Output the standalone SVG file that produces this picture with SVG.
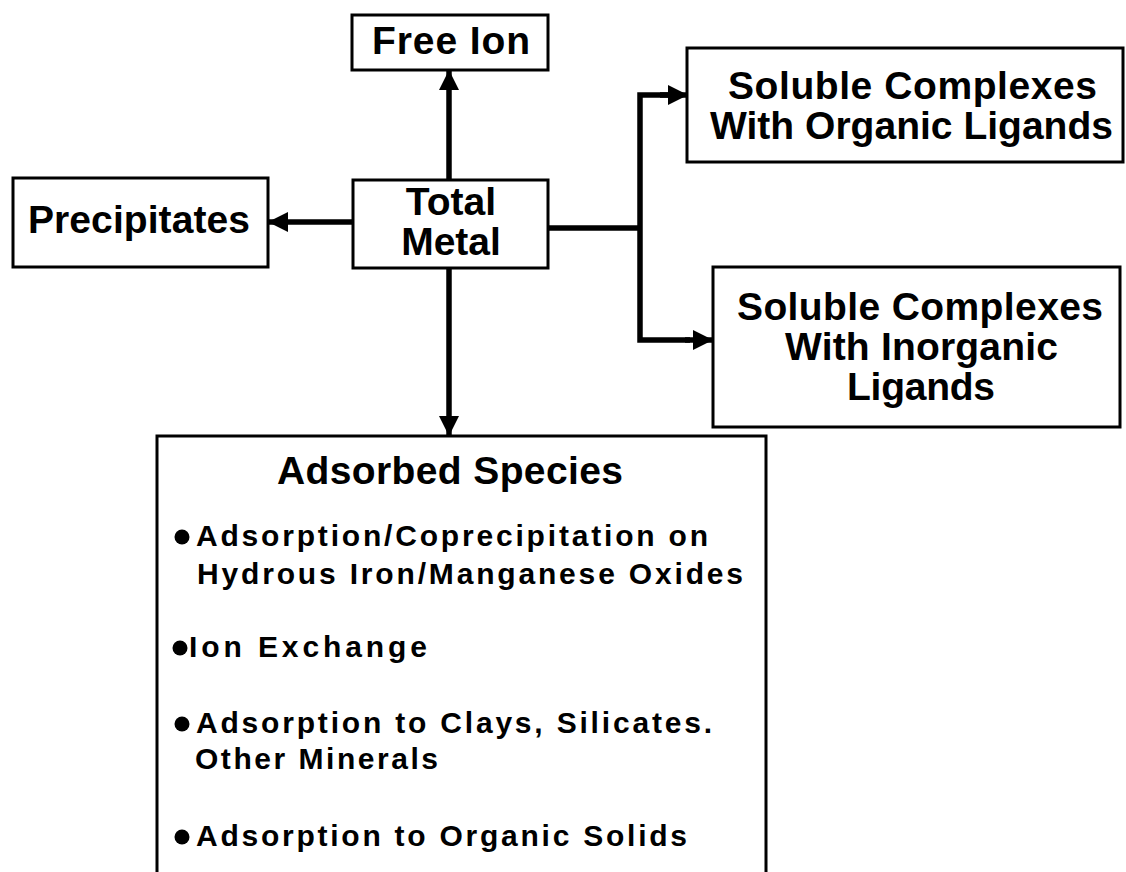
<svg xmlns="http://www.w3.org/2000/svg" width="1126" height="872" viewBox="0 0 1126 872">
<defs>
<style>
.box{fill:#fff;stroke:#000;stroke-width:3}
.t{font-family:"Liberation Sans",Arial,Helvetica,sans-serif;font-weight:bold;font-size:39px;fill:#000}
.m{text-anchor:middle}
.b{font-family:"Liberation Sans",Arial,Helvetica,sans-serif;font-weight:bold;font-size:30px;fill:#000}
.c{fill:none;stroke:#000;stroke-width:5.5}
</style>
<marker id="ah" viewBox="0 0 10 10" refX="9.5" refY="5" markerUnits="userSpaceOnUse" markerWidth="20" markerHeight="20" orient="auto">
<path d="M0,0 L10,5 L0,10 z" fill="#000"/>
</marker>
</defs>
<rect width="1126" height="872" fill="#fff"/>
<g id="connectors">
<line class="c" x1="449" y1="180" x2="449" y2="71" marker-end="url(#ah)"/>
<line class="c" x1="353" y1="222" x2="269" y2="222" marker-end="url(#ah)"/>
<line class="c" x1="449" y1="268" x2="449" y2="435" marker-end="url(#ah)"/>
<line class="c" x1="548" y1="228" x2="640" y2="228"/>
<polyline class="c" points="670,95 640,95 640,340 690,340"/>
<line class="c" x1="660" y1="95" x2="687" y2="95" marker-end="url(#ah)"/>
<line class="c" x1="685" y1="340" x2="712" y2="340" marker-end="url(#ah)"/>
</g>
<g id="free-ion">
<rect class="box" x="352" y="15" width="196" height="55"/>
<text class="t" x="372" y="54" textLength="158" lengthAdjust="spacing">Free Ion</text>
</g>
<g id="total-metal">
<rect class="box" x="353" y="180" width="195" height="88"/>
<text class="t m" x="451" y="215">Total</text>
<text class="t m" x="451" y="255">Metal</text>
</g>
<g id="precipitates">
<rect class="box" x="13" y="178" width="255" height="89"/>
<text class="t" x="28" y="233" textLength="222" lengthAdjust="spacing">Precipitates</text>
</g>
<g id="organic">
<rect class="box" x="687" y="48" width="436" height="114"/>
<text class="t" x="728" y="99" textLength="369" lengthAdjust="spacing">Soluble Complexes</text>
<text class="t" x="710" y="139" textLength="403" lengthAdjust="spacing">With Organic Ligands</text>
</g>
<g id="inorganic">
<rect class="box" x="713" y="267" width="407" height="160"/>
<text class="t" x="737" y="320" textLength="366" lengthAdjust="spacing">Soluble Complexes</text>
<text class="t" x="785" y="360" textLength="273" lengthAdjust="spacing">With Inorganic</text>
<text class="t" x="847" y="400" textLength="148" lengthAdjust="spacing">Ligands</text>
</g>
<g id="adsorbed">
<path class="box" d="M157,880 L157,436 L766,436 L766,880"/>
<text class="t" x="277" y="484" textLength="346" lengthAdjust="spacing">Adsorbed Species</text>
<circle cx="182" cy="537" r="7.5"/>
<text class="b" x="196" y="546" textLength="512" lengthAdjust="spacing">Adsorption/Coprecipitation on</text>
<text class="b" x="197" y="584" textLength="546" lengthAdjust="spacing">Hydrous Iron/Manganese Oxides</text>
<circle cx="180" cy="648" r="7.5"/>
<text class="b" x="189" y="657" textLength="238" lengthAdjust="spacing">Ion Exchange</text>
<circle cx="182" cy="724" r="7.5"/>
<text class="b" x="196" y="733" textLength="516" lengthAdjust="spacing">Adsorption to Clays, Silicates.</text>
<text class="b" x="195" y="769" textLength="243" lengthAdjust="spacing">Other Minerals</text>
<circle cx="182" cy="837" r="7.5"/>
<text class="b" x="196" y="846" textLength="491" lengthAdjust="spacing">Adsorption to Organic Solids</text>
</g>
</svg>
